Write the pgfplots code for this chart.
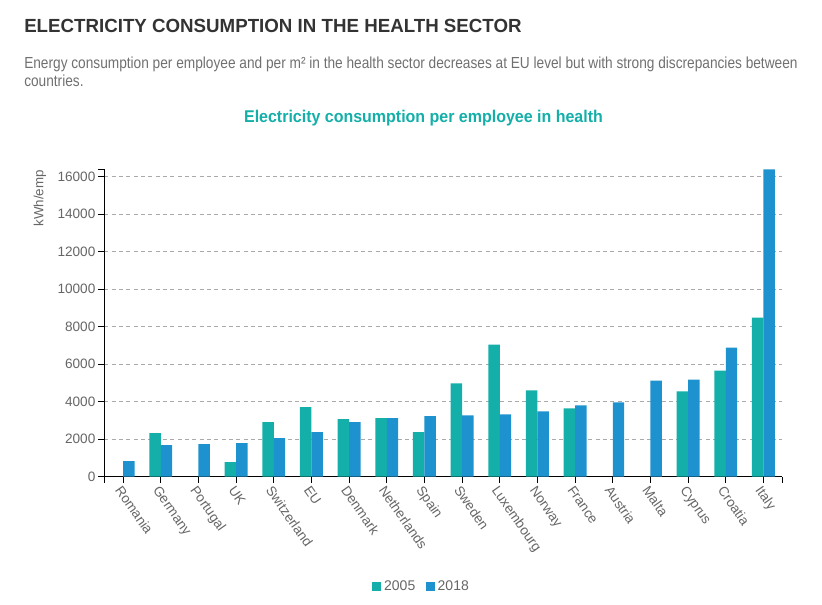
\documentclass[border=0pt]{standalone}
\usepackage{fontspec}
\setmainfont{Liberation Sans}
\newfontfamily\titlefont{Liberation Sans}[FakeStretch=0.985]
\newfontfamily\subfont{Liberation Sans}[FakeStretch=0.855]
\newfontfamily\charttitlefont{Liberation Sans}[FakeStretch=0.94]
\usepackage{pgfplots}
\pgfplotsset{compat=1.18}

\definecolor{teal05}{HTML}{13AFA8}
\definecolor{blue18}{HTML}{1E92CE}
\definecolor{titlegray}{HTML}{333333}
\definecolor{textgray}{HTML}{666666}
\definecolor{subgray}{HTML}{707070}
\definecolor{gridgray}{HTML}{AAAAAA}

\begin{document}
\begin{tikzpicture}
% page frame, origin at the top left corner
\path[use as bounding box] (0pt,0pt) rectangle (616.5pt,-453pt);

% headings
\node[anchor=base west, inner sep=0pt, text=titlegray,
      font=\titlefont\bfseries\fontsize{14.25pt}{17pt}\selectfont]
  at (18pt,-24.5pt) {ELECTRICITY CONSUMPTION IN THE HEALTH SECTOR};
\node[anchor=base west, inner sep=0pt, text=subgray,
      font=\subfont\fontsize{12pt}{14pt}\selectfont]
  at (18pt,-51.2pt) {Energy consumption per employee and per m² in the health sector decreases at EU level but with strong discrepancies between};
\node[anchor=base west, inner sep=0pt, text=subgray,
      font=\subfont\fontsize{12pt}{14pt}\selectfont]
  at (18pt,-65.2pt) {countries.};
\node[anchor=base, inner sep=0pt, text=teal05,
      font=\charttitlefont\bfseries\fontsize{12.75pt}{15pt}\selectfont]
  at (317.6pt,-92pt) {Electricity consumption per employee in health};

% y axis unit
\node[rotate=90, anchor=base east, inner sep=0pt, text=textgray,
      font=\fontsize{10pt}{12pt}\selectfont]
  at (32.5pt,-127.5pt) {kWh/emp};

\begin{axis}[
  at={(78.2pt,-357.4pt)}, anchor=south west,
  scale only axis, width=508.5pt, height=230.6pt,
  xmin=-0.5, xmax=17.5, ymin=0, ymax=16400,
  ybar=0pt, bar width=8.6pt,
  axis x line*=bottom, axis y line*=left,
  axis line style={black, line width=0.8pt, -},
  xtick={0,...,17},
  xticklabels={Romania,Germany,Portugal,UK,Switzerland,EU,Denmark,Netherlands,Spain,Sweden,Luxembourg,Norway,France,Austria,Malta,Cyprus,Croatia,Italy},
  ytick={0,2000,...,16000},
  scaled y ticks=false,
  extra x ticks={-0.5,17.5}, extra x tick labels={},
  extra y ticks={16400}, extra y tick labels={},
  extra tick style={grid=none},
  tick align=outside, major tick length=4.5pt,
  tick style={black, line width=0.8pt},
  ymajorgrids,
  major grid style={gridgray, line width=0.7pt, dash pattern=on 3pt off 2.5pt},
  /pgf/number format/assume math mode=true,
  /pgf/number format/1000 sep={},
  yticklabel style={font=\fontsize{10.2pt}{12pt}\selectfont, text=textgray, inner sep=2pt},
  xticklabel style={font=\fontsize{10.2pt}{12pt}\selectfont, text=textgray,
                    rotate=-55, anchor=north west, inner sep=1pt},
  legend style={at={(0.4686,-0.359)}, anchor=center, draw=none, fill=none,
                legend columns=2, font=\fontsize{10.5pt}{12pt}\selectfont, text=textgray,
                /tikz/every even column/.append style={column sep=6pt}},
]
% 2005
\addplot[fill=teal05, draw=none,
  legend image code/.code={\fill[teal05] (0pt,-3.4pt) rectangle (6.8pt,3.4pt);}]
  coordinates {(1,2310) (3,765) (4,2900) (5,3700) (6,3060) (7,3110) (8,2370)
               (9,4970) (10,7040) (11,4590) (12,3630) (15,4540) (16,5650) (17,8480)};
\addlegendentry{2005}
% 2018
\addplot[fill=blue18, draw=none,
  legend image code/.code={\fill[blue18] (0pt,-3.4pt) rectangle (6.8pt,3.4pt);}]
  coordinates {(0,820) (1,1680) (2,1730) (3,1780) (4,2050) (5,2370) (6,2900)
               (7,3110) (8,3220) (9,3260) (10,3310) (11,3470) (12,3790) (13,3950)
               (14,5120) (15,5170) (16,6880) (17,16380)};
\addlegendentry{2018}
\end{axis}
\end{tikzpicture}
\end{document}
